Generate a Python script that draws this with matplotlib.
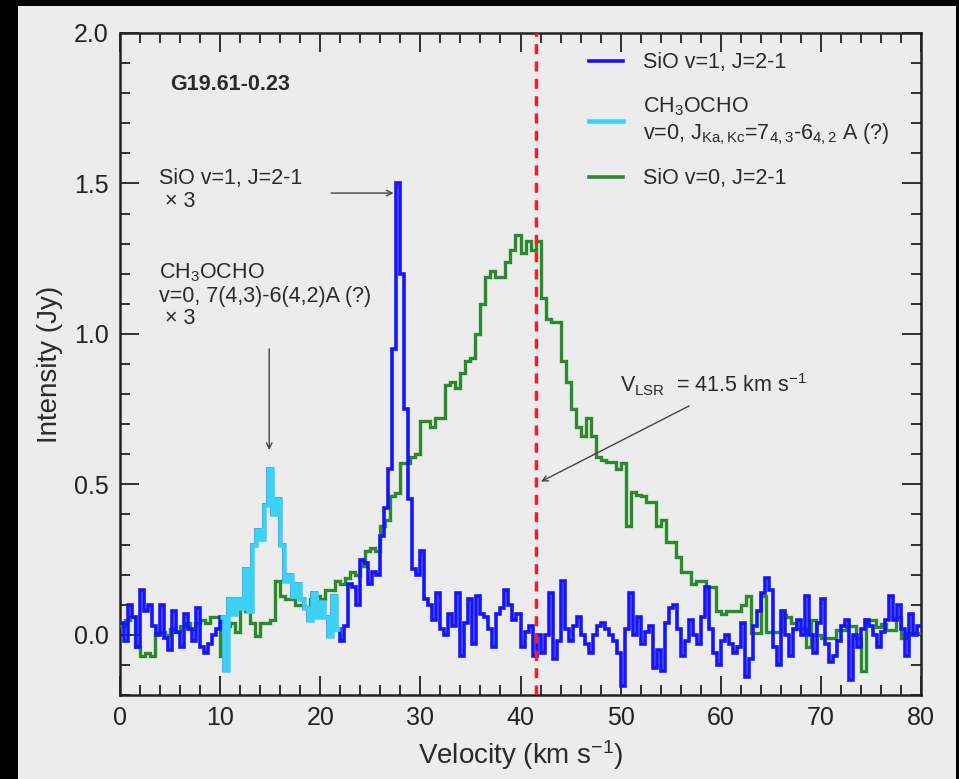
import numpy as np
import matplotlib
matplotlib.use("Agg")
import matplotlib.pyplot as plt
from matplotlib.patches import Rectangle
from matplotlib.lines import Line2D
from matplotlib.ticker import MultipleLocator, FormatStrFormatter

plt.rcParams['font.family'] = ['Liberation Sans', 'DejaVu Sans']
plt.rcParams['mathtext.fontset'] = 'custom'
plt.rcParams['mathtext.rm'] = 'Liberation Sans'
plt.rcParams['mathtext.it'] = 'Liberation Sans:italic'
plt.rcParams['mathtext.bf'] = 'Liberation Sans:bold'

# ---- spectra (Jy) ----
# SiO v=1, J=2-1 (x3), channels of 0.4 km/s starting at 0 km/s
sio_v1_start, sio_v1_dv = 0.0, 0.4
sio_v1 = [
    0.04, -0.02, 0.10, 0.06, -0.04, 0.15, 0.08, 0.10, 0.03, 0.00,
    0.10, -0.01, -0.05, 0.08, 0.01, -0.04, 0.07, 0.02, -0.02, 0.09,
    -0.04, -0.06, -0.03, 0.00, 0.02,
    # 10 - 22 km/s (CH3OCHO feature, x3)
    0.06, -0.116, 0.12, 0.07, 0.12, 0.09, 0.22, 0.08, 0.30, 0.35,
    0.32, 0.43, 0.55, 0.40, 0.45, 0.30, 0.18, 0.20, 0.13, 0.17,
    0.12, 0.09, 0.05, 0.14, 0.06, 0.11, 0.06, -0.005, 0.13, 0.02,
    # 22 - 30.8 km/s
    -0.02, 0.03, 0.17, 0.16, 0.10, 0.25, 0.24, 0.17, 0.21, 0.20,
    0.33, 0.42, 0.55, 0.95, 1.50, 1.20, 0.75, 0.45, 0.22, 0.20,
    0.28, 0.12,
    # 30.8 - 80 km/s
    0.10, 0.05, 0.14, 0.02, 0.00, 0.07, 0.03, 0.14, -0.07, 0.04,
    0.12, -0.03, 0.13, 0.07, 0.06, 0.02, -0.04, 0.07, 0.09, 0.15,
    0.10, 0.05, 0.07, -0.04, 0.01, 0.03, -0.07, 0.00, -0.06, 0.00,
    0.14, -0.08, -0.02, 0.18, 0.02, -0.02, 0.03, 0.06, 0.00, -0.03,
    -0.06, 0.00, 0.03, 0.04, 0.02, 0.00, -0.02, -0.06, -0.17, 0.02,
    0.14, 0.00, 0.06, -0.03, 0.01, 0.03, -0.11, -0.05, -0.12, 0.04,
    0.09, 0.10, 0.02, -0.07, -0.02, 0.05, 0.00, -0.03, 0.06, 0.16,
    0.02, -0.06, -0.10, -0.02, 0.00, -0.03, -0.06, -0.04, 0.04, -0.14,
    -0.08, 0.03, 0.08, 0.14, 0.19, 0.15, -0.04, -0.10, 0.08, 0.00,
    -0.07, 0.02, 0.05, 0.00, 0.13, 0.00, -0.06, 0.04, 0.12, -0.03,
    -0.09, -0.07, -0.02, 0.03, 0.05, -0.15, 0.00, -0.04, 0.02, 0.05,
    0.03, 0.00, -0.04, 0.01, 0.05, 0.13, 0.05, 0.10, 0.02, -0.07,
    0.07, 0.00, 0.03,
]
# velocity range of the CH3OCHO line within the SiO v=1 band
ch3ocho_range = (10.0, 22.0)

# SiO v=0, J=2-1, channels of 0.5 km/s starting at 0 km/s
sio_v0_start, sio_v0_dv = 0.0, 0.5
sio_v0 = [
    0.03, 0.05, 0.06, -0.04, -0.07, -0.06, -0.07, 0.005, 0.01, 0.00,
    0.02, 0.01, 0.03, 0.04, 0.02, 0.04, 0.05, 0.04, 0.06, 0.06,
    -0.07, 0.03, 0.04, 0.01, 0.09, 0.08, 0.04, -0.005, 0.04, 0.04,
    0.05, 0.18, 0.13, 0.12, 0.12, 0.10, 0.10, 0.09, 0.12, 0.13,
    0.12, 0.15, 0.15, 0.18, 0.17, 0.19, 0.21, 0.20, 0.23, 0.28,
    0.29, 0.28, 0.36, 0.38, 0.46, 0.47, 0.57, 0.57, 0.59, 0.60,
    0.71, 0.71, 0.69, 0.72, 0.72, 0.83, 0.84, 0.82, 0.87, 0.91,
    0.92, 1.00, 1.10, 1.19, 1.21, 1.19, 1.19, 1.24, 1.28, 1.33,
    1.27, 1.31, 1.28, 1.31, 1.12, 1.05, 1.04, 1.04, 0.91, 0.84,
    0.75, 0.69, 0.66, 0.72, 0.66, 0.59, 0.58, 0.575, 0.575, 0.55,
    0.57, 0.36, 0.475, 0.465, 0.46, 0.44, 0.44, 0.36, 0.38, 0.31,
    0.31, 0.26, 0.21, 0.21, 0.17, 0.18, 0.18, 0.16, 0.16, 0.08,
    0.07, 0.08, 0.08, 0.08, 0.10, 0.13, 0.005, 0.005, 0.13, 0.01,
    0.01, 0.01, 0.065, 0.06, 0.04, 0.02, 0.02, -0.04, 0.05, 0.00,
    -0.01, -0.01, -0.01, 0.015, 0.015, 0.03, 0.03, -0.01, -0.12, 0.05,
    0.05, 0.025, 0.035, 0.015, 0.015, 0.06, -0.01, 0.005, 0.005, 0.005,
]

v_lsr = 41.5

x_ticks = [0, 10, 20, 30, 40, 50, 60, 70, 80]
y_ticks = [0.0, 0.5, 1.0, 1.5, 2.0]

# ---- figure ----
W, H = 959, 779
fig = plt.figure(figsize=(W / 100, H / 100), dpi=100)
fig.patch.set_facecolor('black')
fig.add_artist(Rectangle((18 / W, 0), (956 - 18) / W, 773 / H,
                         transform=fig.transFigure, facecolor='#ececec',
                         edgecolor='none', zorder=-5))

ax = fig.add_axes([120 / W, 1 - 695 / H, (921 - 120) / W, (695 - 33) / H])
ax.set_facecolor('#ececec')

v1 = np.asarray(sio_v1)
e1 = sio_v1_start + sio_v1_dv * np.arange(len(v1) + 1)
v0 = np.asarray(sio_v0)
e0 = sio_v0_start + sio_v0_dv * np.arange(len(v0) + 1)

c_blue = '#1414ff'
c_cyan = '#3dd2f5'
c_green = '#2b8a2b'

ax.stairs(v0, e0, baseline=None, color=c_green, lw=2.4, zorder=3)
ax.stairs(v1, e1, baseline=None, color=c_blue, lw=2.6, zorder=4)
i0 = int(round((ch3ocho_range[0] - sio_v1_start) / sio_v1_dv))
i1 = int(round((ch3ocho_range[1] - sio_v1_start) / sio_v1_dv))
ax.stairs(v1[i0:i1], e1[i0:i1 + 1], baseline=None, color=c_cyan, lw=3.3, zorder=5)

ax.axvline(v_lsr, color='#ff1a1a', ls=(0, (3, 2.2)), lw=2.4, zorder=6)

# legend
txtc = '#2a2a2a'
handles = [Line2D([], [], color=c_blue, lw=2.6),
           Line2D([], [], color=c_cyan, lw=3.3),
           Line2D([], [], color=c_green, lw=2.6)]
labels = ['SiO v=1, J=2-1',
          'CH$\\mathregular{_3}$OCHO\nv=0, J$\\mathregular{_{Ka,Kc}}$=7$\\mathregular{_{4,3}}$-6$\\mathregular{_{4,2}}$ A (?)',
          'SiO v=0, J=2-1']
ax.legend(handles, labels, loc='upper left', bbox_to_anchor=(0.561, 1.0),
          frameon=False, fontsize=15.5, handlelength=1.6, handletextpad=0.9,
          labelspacing=1.0, labelcolor=txtc)

ax.text(5.0, 1.83, 'G19.61-0.23', fontsize=15.5, fontweight='bold', color=txtc,
        va='center', ha='left')
ax.text(3.9, 1.55, 'SiO v=1, J=2-1\n \u00d7 3', fontsize=15.5, color=txtc,
        va='top', ha='left', linespacing=1.1)
ax.annotate('', xy=(27.6, 1.468), xytext=(20.8, 1.468),
            arrowprops=dict(arrowstyle='->', color='#444444', lw=1.0))
ax.text(3.9, 1.24, 'CH$\\mathregular{_3}$OCHO\nv=0, 7(4,3)-6(4,2)A (?)\n \u00d7 3',
        fontsize=15.5, color=txtc, va='top', ha='left', linespacing=1.1)
ax.annotate('', xy=(14.9, 0.605), xytext=(14.9, 0.96),
            arrowprops=dict(arrowstyle='->', color='#444444', lw=1.0))
ax.text(49.9, 0.83, 'V$\\mathregular{_{LSR}}$  = 41.5 km s$\\mathregular{^{-1}}$',
        fontsize=15.5, color=txtc, va='center', ha='left')
ax.annotate('', xy=(41.8, 0.505), xytext=(57.1, 0.765),
            arrowprops=dict(arrowstyle='->', color='#444444', lw=1.0))

ax.set_xlim(0, 80)
ax.set_ylim(-0.2, 2.0)
ax.set_xticks(x_ticks)
ax.set_yticks(y_ticks)
ax.yaxis.set_major_formatter(FormatStrFormatter('%.1f'))
ax.xaxis.set_minor_locator(MultipleLocator(2))
ax.yaxis.set_minor_locator(MultipleLocator(0.1))
ax.tick_params(which='both', direction='in', top=True, right=True,
               labelsize=18, colors='#222222', width=1.3)
ax.tick_params(which='major', length=14, pad=8)
ax.tick_params(which='minor', length=7)
for s in ax.spines.values():
    s.set_linewidth(1.8)
    s.set_color('#222222')

ax.set_xlabel('Velocity (km s$\\mathregular{^{-1}}$)', fontsize=20, color=txtc, labelpad=6)
ax.set_ylabel('Intensity (Jy)', fontsize=20, color=txtc, labelpad=8)

fig.savefig('out.png', dpi=100, facecolor=fig.get_facecolor())
